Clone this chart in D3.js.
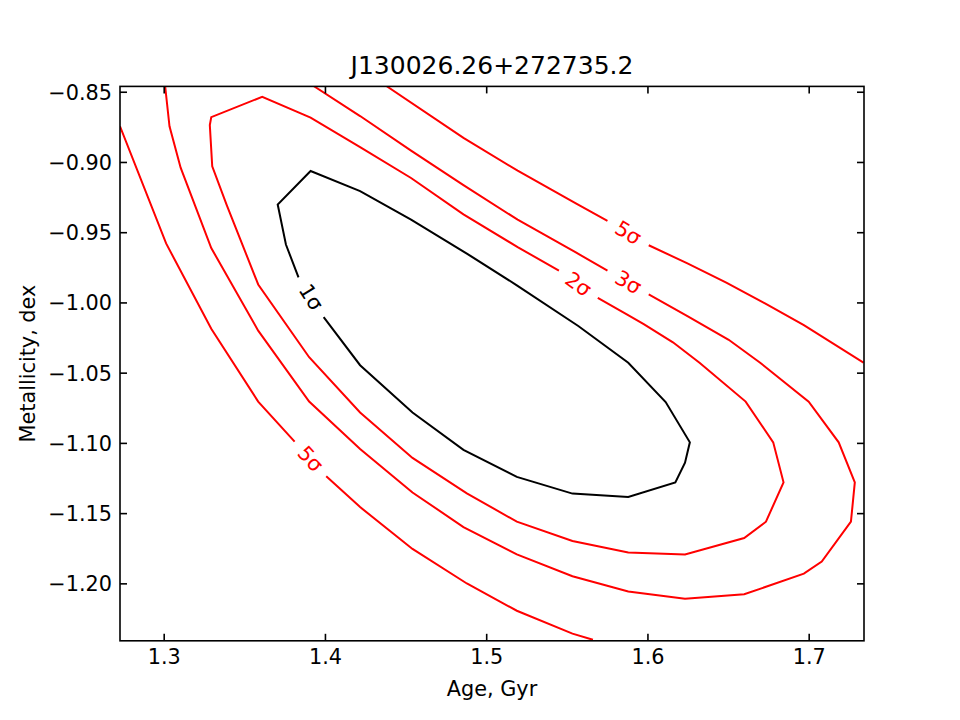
<!DOCTYPE html>
<html>
<head>
<meta charset="utf-8">
<script src="https://cdn.jsdelivr.net/npm/d3@7"></script>
<style>
  html, body { margin: 0; padding: 0; background: #fff; }
  svg { display: block; font-family: "DejaVu Sans", sans-serif; }
</style>
</head>
<body>
<svg id="chart" width="960" height="720"></svg>
<script>
// ---------- data (age in Gyr, metallicity in dex) ----------
const chartTitle = "J130026.26+272735.2";
const xLabel = "Age, Gyr";
const yLabel = "Metallicity, dex";
const xTicks = [1.3, 1.4, 1.5, 1.6, 1.7];
const yTicks = [-0.85, -0.90, -0.95, -1.00, -1.05, -1.10, -1.15, -1.20];
const xDomain = [1.2729, 1.7343];
const yDomain = [-1.2409, -0.8462];

// 1 sigma contour (closed, broken by its label)
const sigma1 = [[1.3992,-1.0105],[1.4218,-1.0447],[1.4543,-1.0784],[1.4859,-1.1050],[1.5190,-1.1242],
  [1.5535,-1.1361],[1.5881,-1.1385],[1.6173,-1.1281],[1.6233,-1.1141],[1.6263,-1.0996],[1.6113,-1.0709],
  [1.5881,-1.0429],[1.5571,-1.0168],[1.5190,-0.9878],[1.4880,-0.9652],[1.4534,-0.9411],[1.4218,-0.9207],
  [1.3911,-0.9064],[1.3707,-0.9303],[1.3758,-0.9588],[1.3836,-0.9821]];

// 2 sigma contour (closed, broken by its label)
const sigma2 = [[1.5692,-0.9968],[1.5872,-1.0085],[1.5977,-1.0155],[1.6158,-1.0284],[1.6323,-1.0429],
  [1.6609,-1.0706],[1.6780,-1.0996],[1.6844,-1.1281],[1.6735,-1.1561],[1.6600,-1.1677],[1.6233,-1.1794],
  [1.5881,-1.1781],[1.5535,-1.1698],[1.5190,-1.1561],[1.4880,-1.1359],[1.4543,-1.1107],[1.4218,-1.0784],
  [1.3902,-1.0390],[1.3586,-0.9872],[1.3391,-0.9308],[1.3301,-0.9031],[1.3286,-0.8738],[1.3295,-0.8681],
  [1.3611,-0.8536],[1.3911,-0.8684],[1.4218,-0.8894],[1.4534,-0.9114],[1.4859,-0.9373],[1.5195,-0.9606],
  [1.5451,-0.9774]];

// 3 sigma contour (open at top), two pieces either side of its label
const sigma3a = [[1.3932,-0.8461],[1.4218,-0.8673],[1.4534,-0.8919],[1.4859,-0.9165],[1.5195,-0.9411],
  [1.5556,-0.9644],[1.5752,-0.9774]];
const sigma3b = [[1.6008,-0.9942],[1.6248,-1.0098],[1.6504,-1.0266],[1.6699,-1.0429],[1.7000,-1.0706],
  [1.7186,-1.0996],[1.7286,-1.1281],[1.7262,-1.1561],[1.7081,-1.1845],[1.6970,-1.1931],[1.6600,-1.2078],
  [1.6233,-1.2110],[1.5881,-1.2058],[1.5535,-1.1949],[1.5190,-1.1794],[1.4859,-1.1599],[1.4543,-1.1353],
  [1.4218,-1.1043],[1.3902,-1.0706],[1.3586,-1.0201],[1.3295,-0.9613],[1.3105,-0.9041],[1.3036,-0.8746],
  [1.3009,-0.8461]];

// 5 sigma contour: upper-right branch and lower-left branch, each broken by a label
const sigma5a = [[1.4383,-0.8461],[1.4859,-0.8829],[1.5195,-0.9062],[1.5556,-0.9295],[1.5752,-0.9419]];
const sigma5b = [[1.6008,-0.9593],[1.6248,-0.9722],[1.6489,-0.9859],[1.6729,-1.0007],[1.6970,-1.0162],
  [1.7340,-1.0429]];
const sigma5c = [[1.2729,-0.8746],[1.3015,-0.9580],[1.3295,-1.0188],[1.3586,-1.0706],[1.3812,-1.0991]];
const sigma5d = [[1.4008,-1.1237],[1.4218,-1.1457],[1.4543,-1.1755],[1.4880,-1.2001],[1.5190,-1.2195],
  [1.5535,-1.2358],[1.5662,-1.2402]];

const contourColors = { one: "#000000", many: "#ff0000" };

// each label sits in the gap between the end of one piece and the start of another
const labelList = [
  { text: "1σ", from: sigma1, fromEnd: true, to: sigma1, toEnd: false, color: contourColors.one },
  { text: "2σ", from: sigma2, fromEnd: true, to: sigma2, toEnd: false, color: contourColors.many },
  { text: "3σ", from: sigma3a, fromEnd: true, to: sigma3b, toEnd: false, color: contourColors.many },
  { text: "5σ", from: sigma5a, fromEnd: true, to: sigma5b, toEnd: false, color: contourColors.many },
  { text: "5σ", from: sigma5c, fromEnd: true, to: sigma5d, toEnd: false, color: contourColors.many }
];

const lineList = [
  { pts: sigma1, color: contourColors.one },
  { pts: sigma2, color: contourColors.many },
  { pts: sigma3a, color: contourColors.many },
  { pts: sigma3b, color: contourColors.many },
  { pts: sigma5a, color: contourColors.many },
  { pts: sigma5b, color: contourColors.many },
  { pts: sigma5c, color: contourColors.many },
  { pts: sigma5d, color: contourColors.many }
];

// ---------- layout ----------
const L = 120, R = 864, T = 86.4, B = 640.8;
const svg = d3.select("#chart");
const x = d3.scaleLinear().domain(xDomain).range([L, R]);
const y = d3.scaleLinear().domain(yDomain).range([B, T]);

svg.append("defs").append("clipPath").attr("id", "plotclip")
  .append("rect").attr("x", L).attr("y", T).attr("width", R - L).attr("height", B - T);

const plot = svg.append("g").attr("clip-path", "url(#plotclip)");
const line = d3.line().x(d => x(d[0])).y(d => y(d[1]));

plot.selectAll("path.contour").data(lineList).join("path")
  .attr("class", "contour")
  .attr("d", d => line(d.pts))
  .attr("fill", "none")
  .attr("stroke", d => d.color)
  .attr("stroke-width", 2)
  .attr("stroke-linejoin", "miter");

// labels
labelList.forEach(lb => {
  const a = lb.fromEnd ? lb.from[lb.from.length - 1] : lb.from[0];
  const b = lb.toEnd ? lb.to[lb.to.length - 1] : lb.to[0];
  const ax = x(a[0]), ay = y(a[1]), bx = x(b[0]), by = y(b[1]);
  let ang = Math.atan2(by - ay, bx - ax) * 180 / Math.PI;
  if (ang > 90) ang -= 180;
  if (ang < -90) ang += 180;
  const cx = (ax + bx) / 2, cy = (ay + by) / 2;
  plot.append("text")
    .attr("transform", `translate(${cx},${cy}) rotate(${ang})`)
    .attr("text-anchor", "middle")
    .attr("dominant-baseline", "central")
    .attr("font-size", 20.8)
    .attr("fill", lb.color)
    .text(lb.text);
});

// ---------- axes ----------
const fmtX = d3.format(".1f"), fmtY = d3.format(".2f");
const gx = svg.append("g").attr("transform", `translate(0,${B})`)
  .call(d3.axisBottom(x).tickValues(xTicks).tickFormat(fmtX).tickSizeInner(-7).tickSizeOuter(0).tickPadding(8));
const gxt = svg.append("g").attr("transform", `translate(0,${T})`)
  .call(d3.axisTop(x).tickValues(xTicks).tickFormat("").tickSizeInner(-7).tickSizeOuter(0));
const gy = svg.append("g").attr("transform", `translate(${L},0)`)
  .call(d3.axisLeft(y).tickValues(yTicks).tickFormat(fmtY).tickSizeInner(-7).tickSizeOuter(0).tickPadding(8));
const gyr = svg.append("g").attr("transform", `translate(${R},0)`)
  .call(d3.axisRight(y).tickValues(yTicks).tickFormat("").tickSizeInner(-7).tickSizeOuter(0));

[gx, gxt, gy, gyr].forEach(g => {
  g.select(".domain").remove();
  g.selectAll(".tick line").attr("stroke", "#000").attr("stroke-width", 1.6);
  g.selectAll(".tick text").attr("font-size", 20.8).attr("fill", "#000")
    .attr("font-family", "DejaVu Sans, sans-serif");
});
gy.selectAll(".tick text").attr("dy", "0.36em");

// frame
svg.append("rect").attr("x", L).attr("y", T).attr("width", R - L).attr("height", B - T)
  .attr("fill", "none").attr("stroke", "#000").attr("stroke-width", 1.6);

// titles
svg.append("text").attr("x", (L + R) / 2).attr("y", 74).attr("text-anchor", "middle")
  .attr("font-size", 25).attr("fill", "#000").text(chartTitle);
svg.append("text").attr("x", (L + R) / 2).attr("y", 696).attr("text-anchor", "middle")
  .attr("font-size", 20.8).attr("fill", "#000").text(xLabel);
svg.append("text").attr("transform", `translate(35,${(T + B) / 2}) rotate(-90)`)
  .attr("text-anchor", "middle").attr("font-size", 20.8).attr("fill", "#000").text(yLabel);
</script>
</body>
</html>
